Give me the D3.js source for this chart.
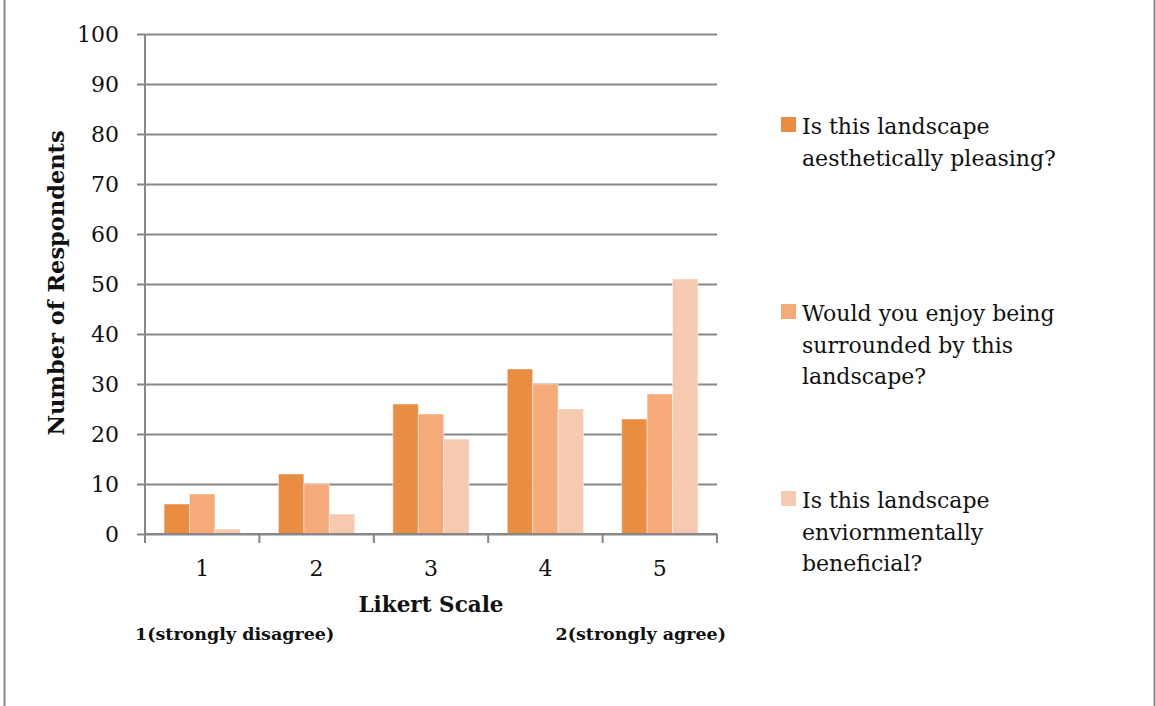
<!DOCTYPE html>
<html>
<head>
<meta charset="utf-8">
<script src="https://cdn.jsdelivr.net/npm/d3@7"></script>
<style>
  html, body { margin: 0; padding: 0; background: #fff; }
  svg { display: block; }
  text { font-family: "DejaVu Serif", "Liberation Serif", serif; fill: #111; }
</style>
</head>
<body>
<svg id="chart" width="1156" height="706"></svg>
<script>
// Likert responses, one array per question
const categories = ["1", "2", "3", "4", "5"];
const seriesNames = [
  ["Is this landscape", "aesthetically pleasing?"],
  ["Would you enjoy being", "surrounded by this", "landscape?"],
  ["Is this landscape", "enviornmentally", "beneficial?"]
];
const aesthetic = [6, 12, 26, 33, 23];
const enjoy = [8, 10, 24, 30, 28];
const beneficial = [1, 4, 19, 25, 51];
const yTicks = [0, 10, 20, 30, 40, 50, 60, 70, 80, 90, 100];
const colors = ["#E88D42", "#F6AA79", "#F8C9B1"];

const series = [aesthetic, enjoy, beneficial];

const svg = d3.select("#chart");
const gridColor = "#878787";

// outer frame edges
svg.append("line").attr("x1", 4.5).attr("x2", 4.5).attr("y1", 0).attr("y2", 706)
  .attr("stroke", gridColor).attr("stroke-width", 2);
svg.append("line").attr("x1", 1154.5).attr("x2", 1154.5).attr("y1", 0).attr("y2", 706)
  .attr("stroke", gridColor).attr("stroke-width", 2);

const plot = { left: 145, right: 717, top: 34, bottom: 534 };

const x = d3.scaleBand().domain(categories).range([plot.left, plot.right]);
const inner = d3.scaleBand().domain(d3.range(series.length))
  .range([0, x.bandwidth()]).paddingInner(0).paddingOuter(0.75);
const y = d3.scaleLinear().domain([0, 100]).range([plot.bottom, plot.top]);

// horizontal gridlines with left ticks
const yAxis = d3.axisLeft(y).tickValues(yTicks).tickSize(-(plot.right - plot.left)).tickPadding(0).tickFormat(d3.format("d"));
const gy = svg.append("g").attr("transform", `translate(${plot.left},0)`).call(yAxis);
gy.select(".domain").remove();
gy.selectAll(".tick line").attr("x1", -8).attr("stroke", gridColor).attr("stroke-width", 2);
gy.selectAll(".tick text").attr("x", -26).attr("dy", "0.35em")
  .style("font-size", "22px").style("font-family", "DejaVu Serif, serif").attr("fill", "#111");

// vertical axis line
svg.append("line").attr("x1", plot.left).attr("x2", plot.left).attr("y1", plot.top).attr("y2", plot.bottom)
  .attr("stroke", gridColor).attr("stroke-width", 2);

// bars
const groups = svg.append("g").selectAll("g").data(categories).join("g")
  .attr("transform", d => `translate(${x(d)},0)`);
groups.selectAll("rect")
  .data((d, i) => series.map((s, k) => ({ k, v: s[i] })))
  .join("rect")
  .attr("x", d => inner(d.k))
  .attr("width", inner.bandwidth())
  .attr("y", d => y(d.v))
  .attr("height", d => y(0) - y(d.v))
  .attr("fill", d => colors[d.k])
  .attr("stroke", "#fff").attr("stroke-opacity", 0.45).attr("stroke-width", 1);

// category axis
const xAxis = d3.axisBottom(x).tickSize(0).tickPadding(26);
const gx = svg.append("g").attr("transform", `translate(0,${plot.bottom})`).call(xAxis);
gx.select(".domain").attr("stroke", gridColor).attr("stroke-width", 2)
  .attr("d", `M${plot.left},0H${plot.right}`);
gx.selectAll(".tick text").style("font-size", "22px").style("font-family", "DejaVu Serif, serif").attr("fill", "#111");
// tick marks at band boundaries
const bounds = categories.map(c => x(c)).concat([x(categories[categories.length - 1]) + x.step()]);
gx.selectAll(".bound").data(bounds).join("line").attr("class", "bound")
  .attr("x1", d => d).attr("x2", d => d).attr("y1", 0).attr("y2", 9)
  .attr("stroke", gridColor).attr("stroke-width", 2);

// axis titles
svg.append("text").attr("transform", "translate(64,283) rotate(-90)")
  .attr("text-anchor", "middle").style("font-size", "22.5px").style("font-weight", "bold")
  .text("Number of Respondents");
svg.append("text").attr("x", 431).attr("y", 612).attr("text-anchor", "middle")
  .style("font-size", "21.5px").style("font-weight", "bold").text("Likert Scale");
svg.append("text").attr("x", 135).attr("y", 640)
  .style("font-size", "17.5px").style("font-weight", "bold").text("1(strongly disagree)");
svg.append("text").attr("x", 726).attr("y", 640).attr("text-anchor", "end")
  .style("font-size", "17.5px").style("font-weight", "bold").text("2(strongly agree)");

// legend
const legendTop = [117, 304, 491];
const legend = svg.append("g").selectAll("g").data(seriesNames).join("g")
  .attr("transform", (d, i) => `translate(781,${legendTop[i]})`);
legend.append("rect").attr("width", 15).attr("height", 15).attr("fill", (d, i) => colors[i]);
legend.each(function (lines) {
  const t = d3.select(this).append("text").attr("x", 21).attr("y", 17)
    .style("font-size", "22px");
  t.selectAll("tspan").data(lines).join("tspan")
    .attr("x", 21).attr("dy", (d, j) => j === 0 ? 0 : 31.5).text(d => d);
});
</script>
</body>
</html>
